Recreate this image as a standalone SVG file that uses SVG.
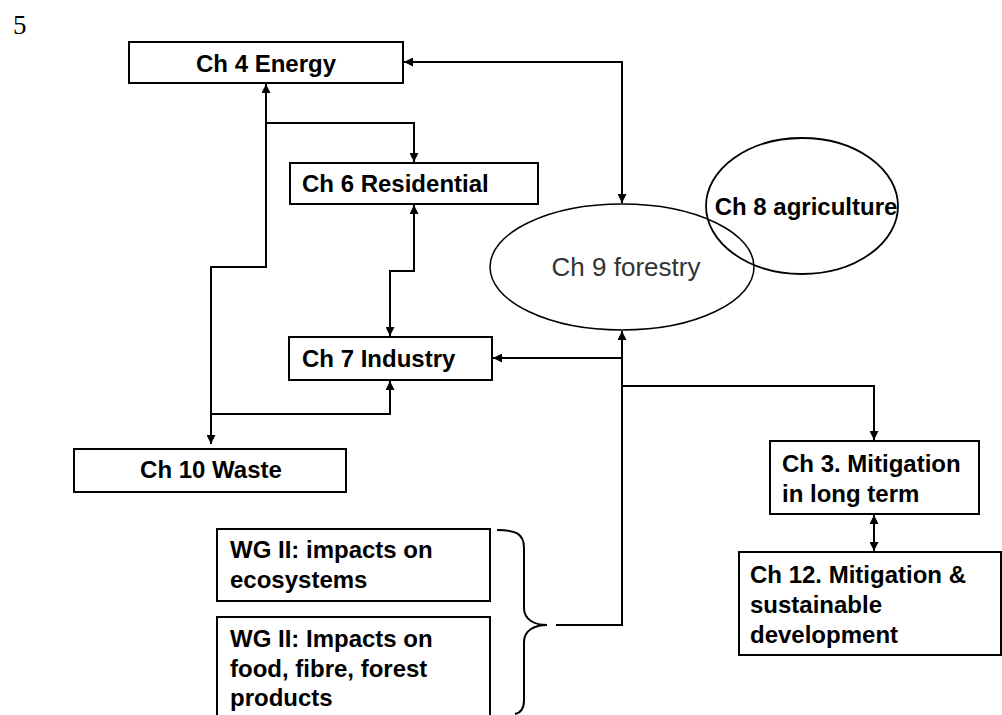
<svg xmlns="http://www.w3.org/2000/svg" width="1002" height="715" viewBox="0 0 1002 715">
<defs>
<marker id="ah" viewBox="0 0 10 10" refX="10" refY="5" markerWidth="9" markerHeight="9" orient="auto-start-reverse" markerUnits="userSpaceOnUse">
<path d="M0,0 L10,5 L0,10 z" fill="#000"/>
</marker>
<style>
.box{fill:#fff;stroke:#000;stroke-width:2}
.t{font-family:"Liberation Sans",Arial,sans-serif;font-size:24px;font-weight:bold;fill:#000}
.tr{font-family:"Liberation Sans",Arial,sans-serif;font-size:26px;fill:#333}
.c{fill:none;stroke:#000;stroke-width:2}
.a{marker-end:url(#ah)}
.ab{marker-start:url(#ah);marker-end:url(#ah)}
</style>
</defs>
<rect width="1002" height="715" fill="#fff"/>
<text x="13" y="34" font-family="Liberation Serif,Times New Roman,serif" font-size="27" fill="#000">5</text>

<g id="connectors">
<path class="c ab" d="M404,62 H622 V203"/>
<path class="c ab" d="M266,84 V267 H211 V444"/>
<path class="c a" d="M266,123 H414 V162"/>
<path class="c ab" d="M414,205 V271 H390 V336"/>
<path class="c a" d="M211,414 H390 V381"/>
<path class="c a" d="M556,625 H622 V331"/>
<path class="c a" d="M622,358 H493"/>
<path class="c a" d="M622,386 H874 V440"/>
<path class="c ab" d="M874,515 V551"/>
<path class="c" stroke-width="1.5" d="M497,530 C515,530 524,533 524,548 V608 C524,620 535,625 547,625 C535,625 524,630 524,642 V700 C524,710 520,713 515,714"/>
</g>

<g id="ch4"><rect class="box" x="129" y="42" width="274" height="41"/><text class="t" x="266" y="72" text-anchor="middle">Ch 4 Energy</text></g>
<g id="ch6"><rect class="box" x="290" y="163" width="248" height="41"/><text class="t" x="302" y="192">Ch 6 Residential</text></g>
<g id="ch7"><rect class="box" x="289" y="337" width="203" height="43"/><text class="t" x="302" y="367">Ch 7 Industry</text></g>
<g id="ch10"><rect class="box" x="74" y="449" width="272" height="43"/><text class="t" x="211" y="478" text-anchor="middle">Ch 10 Waste</text></g>
<g id="ch9"><ellipse cx="622" cy="267" rx="132" ry="63" fill="none" stroke="#000" stroke-width="1.5"/><text class="tr" x="626" y="276" text-anchor="middle">Ch 9 forestry</text></g>
<g id="ch8"><ellipse cx="802" cy="206" rx="96" ry="68" fill="none" stroke="#000" stroke-width="1.8"/><text class="t" x="806" y="215" text-anchor="middle" font-size="23">Ch 8 agriculture</text></g>
<g id="ch3"><rect class="box" x="770" y="441" width="209" height="73"/><text class="t" x="782" y="472">Ch 3. Mitigation</text><text class="t" x="782" y="502">in long term</text></g>
<g id="ch12"><rect class="box" x="739" y="552" width="262" height="103"/><text class="t" x="750" y="583">Ch 12. Mitigation &amp;</text><text class="t" x="750" y="613">sustainable</text><text class="t" x="750" y="643">development</text></g>
<g id="wg1"><rect class="box" x="217" y="529" width="273" height="72"/><text class="t" x="230" y="558">WG II: impacts on</text><text class="t" x="230" y="588">ecosystems</text></g>
<g id="wg2"><rect class="box" x="217" y="617" width="273" height="110"/><text class="t" x="230" y="647">WG II: Impacts on</text><text class="t" x="230" y="677">food, fibre, forest</text><text class="t" x="230" y="706">products</text></g>
</svg>
